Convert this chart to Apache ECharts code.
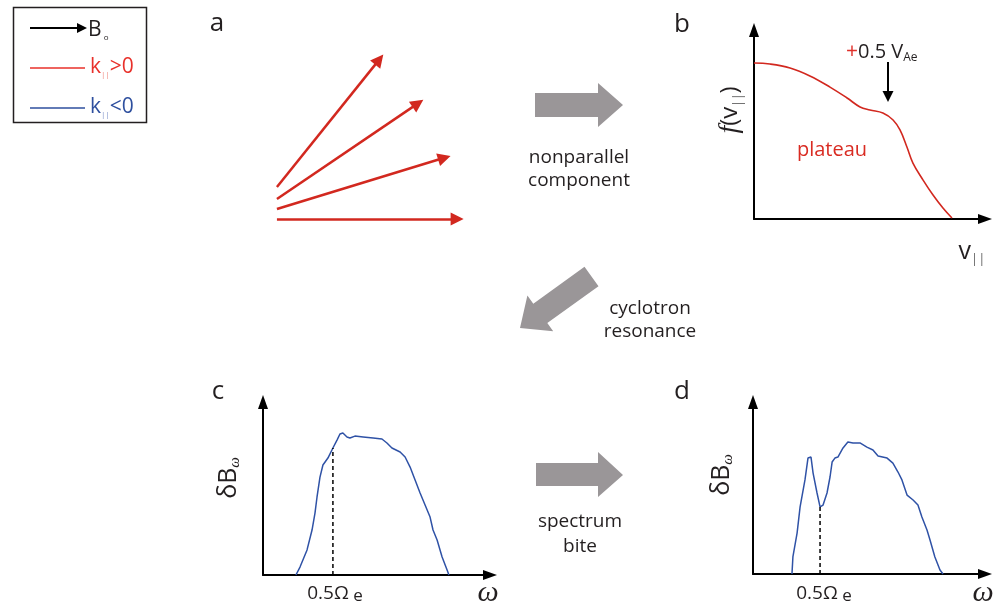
<!DOCTYPE html>
<html><head><meta charset="utf-8">
<script src="https://cdn.jsdelivr.net/npm/echarts@6/dist/echarts.min.js"></script>
<style>html,body{margin:0;padding:0;background:#fff}#c{width:1004px;height:610px}</style>
</head><body><div id="c"></div><script>
// ---- data (arbitrary units, 0..100 on each small panel) ----
// panel a: wave vectors (start / end)
const waveStart = [[7.7,26.5],[7.7,20.5],[7.7,15.5],[7.7,10.5]];
const waveEnd   = [[54.2,90.2],[71.8,68.3],[83.8,41.1],[89.6,10.5]];
// panel b: distribution f(v||)
const distV = [0,6.9,15.6,24.2,32.9,40.3,45.9,50.2,55.8,60.2,63.2,66.2,68.8,73.2,77.5,81.8,85.7];
const distF = [82.5,82.0,79.9,75.7,69.8,64.0,59.3,57.7,56.1,52.4,47.1,38.1,29.6,20.6,12.7,5.8,0.5];
const markV = 58.0, markTop = 83.1, markBottom = 64.8;
// panel c: spectrum before
const specCw = [14.5,16.3,19.4,21.6,22.9,23.8,25.1,26.4,28.6,30.8,32.6,33.9,35.2,37.0,38.3,40.5,44.1,48.5,52.4,54.6,56.8,60.4,62.6,64.8,67.0,69.2,71.4,73.6,74.9,76.7,78.9,81.1,81.9];
const specCb = [0,4.6,14.5,26.0,35.8,45.1,56.6,63.6,67.6,73.4,78.0,81.5,82.1,79.8,79.2,80.3,79.8,79.2,78.6,76.3,73.4,71.1,68.2,62.4,54.9,47.4,40.5,33.5,26.0,20.2,10.4,2.9,0];
const halfC = [30.8, 73.4];
// panel d: spectrum with bite
const specDw = [16.8,17.2,19.0,20.3,22.4,23.7,25.0,25.9,27.6,28.9,30.2,31.9,33.2,34.1,35.3,36.6,38.8,40.9,43.1,46.1,49.1,51.7,53.9,57.8,60.3,62.5,64.2,66.4,69.0,71.1,72.8,75.0,76.3,78.4,80.6,81.9];
const specDb = [0,9.9,23.8,39.0,54.7,67.4,68.0,58.7,47.1,39.0,40.1,47.1,56.4,65.1,67.4,68.0,73.3,76.7,76.2,76.2,73.8,72.1,68.6,67.4,64.5,59.3,54.7,45.9,43.0,40.1,33.1,25.6,19.8,9.9,2.3,0];
const halfD = [28.9, 39.0];

const zip = (a,b) => a.map((v,i)=>[v,b[i]]);
const SANS = '"Open Sans", sans-serif';
const SERIF = '"Liberation Serif", serif';
const RED = '#d2281f', BLUE = '#2f52a6', GRAY = '#9a9698', INK = '#231f20';

function axisPair(show){
  return {type:'value', min:0, max:100, axisLabel:{show:false}, axisTick:{show:false}, splitLine:{show:false},
    axisLine:{show:show, onZero:false, symbol:['none','triangle'], symbolSize:[10,14], lineStyle:{color:'#000', width:2}}};
}
const grids = [
  {left:260, top:40, width:220, height:200},          // a
  {left:754, top:30, width:231, height:189},          // b
  {left:263, top:402, width:227, height:173},         // c
  {left:753, top:402, width:232, height:172}          // d
];
const xAxes = grids.map((g,i)=>Object.assign(axisPair(i>0),{gridIndex:i}));
const yAxes = grids.map((g,i)=>Object.assign(axisPair(i>0),{gridIndex:i}));

function txt(x,y,text,o){
  o = o||{};
  return {type:'text', x:x, y:y, rotation:o.rot||0, silent:true,
    style:{text:text, fontFamily:o.family||SANS, fontSize:o.size||20, fontStyle:o.style||'normal',
      fill:o.color||INK, align:o.align||'center', textAlign:o.align||'center',
      verticalAlign:o.va||'middle', textVerticalAlign:o.va||'middle', rich:o.rich, lineHeight:o.lh}};
}
function sub(size,color,extra){ return Object.assign({fontSize:size, fontFamily:SANS, fill:color||INK, color:color||INK, verticalAlign:'bottom', lineHeight:size}, extra||{}); }

const graphics = [
  // legend
  {type:'rect', shape:{x:13.5,y:7.5,width:133,height:115}, style:{fill:'none', stroke:INK, lineWidth:1.5}},
  {type:'line', shape:{x1:30,y1:28,x2:80,y2:28}, style:{stroke:'#000', lineWidth:2}},
  {type:'polygon', shape:{points:[[77,23],[87,28],[77,33]]}, style:{fill:'#000'}},
  txt(88,30,'{m|B}{s| o}',{align:'left', rich:{m:{fontSize:21,fontFamily:SANS,fill:INK,lineHeight:24}, s:sub(8,INK)}}),
  {type:'line', shape:{x1:30,y1:68,x2:85,y2:68}, style:{stroke:'#e8302a', lineWidth:1.5}},
  txt(90,67,'{m|k}{s|||}{m|>0}',{align:'left', rich:{m:{fontSize:21,fontFamily:SANS,fill:'#e8302a',lineHeight:24}, s:sub(8,'#f08a80')}}),
  {type:'line', shape:{x1:30,y1:108,x2:85,y2:108}, style:{stroke:'#2e4f9e', lineWidth:1.5}},
  txt(90,107,'{m|k}{s|||}{m|<0}',{align:'left', rich:{m:{fontSize:21,fontFamily:SANS,fill:'#2e4f9e',lineHeight:24}, s:sub(8,'#7f93c8')}}),
  // panel letters
  txt(217,24,'a',{size:26}), txt(682,25,'b',{size:26}), txt(218,392,'c',{size:26}), txt(682,392,'d',{size:26}),
  // gray block arrows
  {type:'polygon', shape:{points:[[535,93],[598,93],[598,83],[623,105],[598,127],[598,117],[535,117]]}, style:{fill:GRAY}},
  {type:'polygon', shape:{points:[[584.5,266.8],[598.5,286.2],[547.3,323.1],[553.2,331.3],[520,328],[527.4,295.5],[533.3,303.7]]}, style:{fill:GRAY}},
  {type:'polygon', shape:{points:[[536,463],[598,463],[598,452],[623,475],[598,497],[598,486],[536,486]]}, style:{fill:GRAY}},
  txt(579,158,'nonparallel',{size:19}), txt(579,181,'component',{size:19}),
  txt(650,309,'cyclotron',{size:19}), txt(650,332,'resonance',{size:19}),
  txt(580,522,'spectrum',{size:19}), txt(580,547,'bite',{size:19}),
  // panel b texts
  txt(846,52,'{r|+}{m|0.5 V}{s|Ae}',{align:'left', rich:{r:{fontSize:21,fontFamily:SANS,fill:'#e0302a',lineHeight:24}, m:{fontSize:20,fontFamily:SANS,fill:INK,lineHeight:24}, s:sub(12,INK)}}),
  txt(832,150,'plateau',{size:20, color:'#d92b22'}),
  txt(730,110,'{f|f}{p|(v}{s|||}{p|)}',{rot:Math.PI/2, rich:{f:{fontSize:28,fontFamily:SERIF,fontStyle:'italic',fill:INK,lineHeight:30}, p:{fontSize:24,fontFamily:SANS,fill:INK,lineHeight:30}, s:sub(12,'#555')}}),
  txt(972,252,'{m|v}{s|||}',{rich:{m:{fontSize:25,fontFamily:SANS,fill:INK,lineHeight:28}, s:sub(13,'#666')}}),
  // panel c texts
  txt(229,478,'{m|δB}{s|ω}',{rot:Math.PI/2, rich:{m:{fontSize:25,fontFamily:SANS,fill:INK,lineHeight:28}, s:sub(15,INK,{fontFamily:SERIF,fontStyle:'italic'})}}),
  txt(335,594,'{m|0.5Ω}{s| e}',{rich:{m:{fontSize:19,fontFamily:SANS,fill:INK,lineHeight:22}, s:sub(17,INK,{lineHeight:18})}}),
  txt(488,593,'ω',{size:30, family:SERIF, style:'italic', color:INK}),
  // panel d texts
  txt(722,475,'{m|δB}{s|ω}',{rot:Math.PI/2, rich:{m:{fontSize:25,fontFamily:SANS,fill:INK,lineHeight:28}, s:sub(15,INK,{fontFamily:SERIF,fontStyle:'italic'})}}),
  txt(824,594,'{m|0.5Ω}{s| e}',{rich:{m:{fontSize:19,fontFamily:SANS,fill:INK,lineHeight:22}, s:sub(17,INK,{lineHeight:18})}}),
  txt(983,593,'ω',{size:30, family:SERIF, style:'italic', color:INK})
];

const series = [
  {type:'lines', coordinateSystem:'cartesian2d', xAxisIndex:0, yAxisIndex:0, symbol:['none','triangle'], symbolSize:13,
   lineStyle:{color:RED, width:2.5, opacity:1}, silent:true,
   data: waveStart.map((s,i)=>({coords:[s, waveEnd[i]]}))},
  {type:'line', xAxisIndex:1, yAxisIndex:1, data:zip(distV,distF), smooth:0.4, symbol:'none', silent:true,
   lineStyle:{color:RED, width:1.6}},
  {type:'lines', coordinateSystem:'cartesian2d', xAxisIndex:1, yAxisIndex:1, symbol:['none','triangle'], symbolSize:11,
   lineStyle:{color:'#000', width:2, opacity:1}, silent:true,
   data:[{coords:[[markV,markTop],[markV,markBottom]]}]},
  {type:'line', xAxisIndex:2, yAxisIndex:2, data:zip(specCw,specCb), symbol:'none', silent:true,
   lineStyle:{color:BLUE, width:1.5}},
  {type:'line', xAxisIndex:2, yAxisIndex:2, data:[[halfC[0],0],[halfC[0],halfC[1]]], symbol:'none', silent:true,
   lineStyle:{color:'#000', width:1.5, type:[4,3]}},
  {type:'line', xAxisIndex:3, yAxisIndex:3, data:zip(specDw,specDb), symbol:'none', silent:true,
   lineStyle:{color:BLUE, width:1.5}},
  {type:'line', xAxisIndex:3, yAxisIndex:3, data:[[halfD[0],0],[halfD[0],halfD[1]]], symbol:'none', silent:true,
   lineStyle:{color:'#000', width:1.5, type:[4,3]}}
];

const chart = echarts.init(document.getElementById('c'), null, {renderer:'canvas'});
chart.setOption({
  animation:false, backgroundColor:'#fff',
  grid:grids, xAxis:xAxes, yAxis:yAxes, series:series, graphic:graphics
});
</script></body></html>
